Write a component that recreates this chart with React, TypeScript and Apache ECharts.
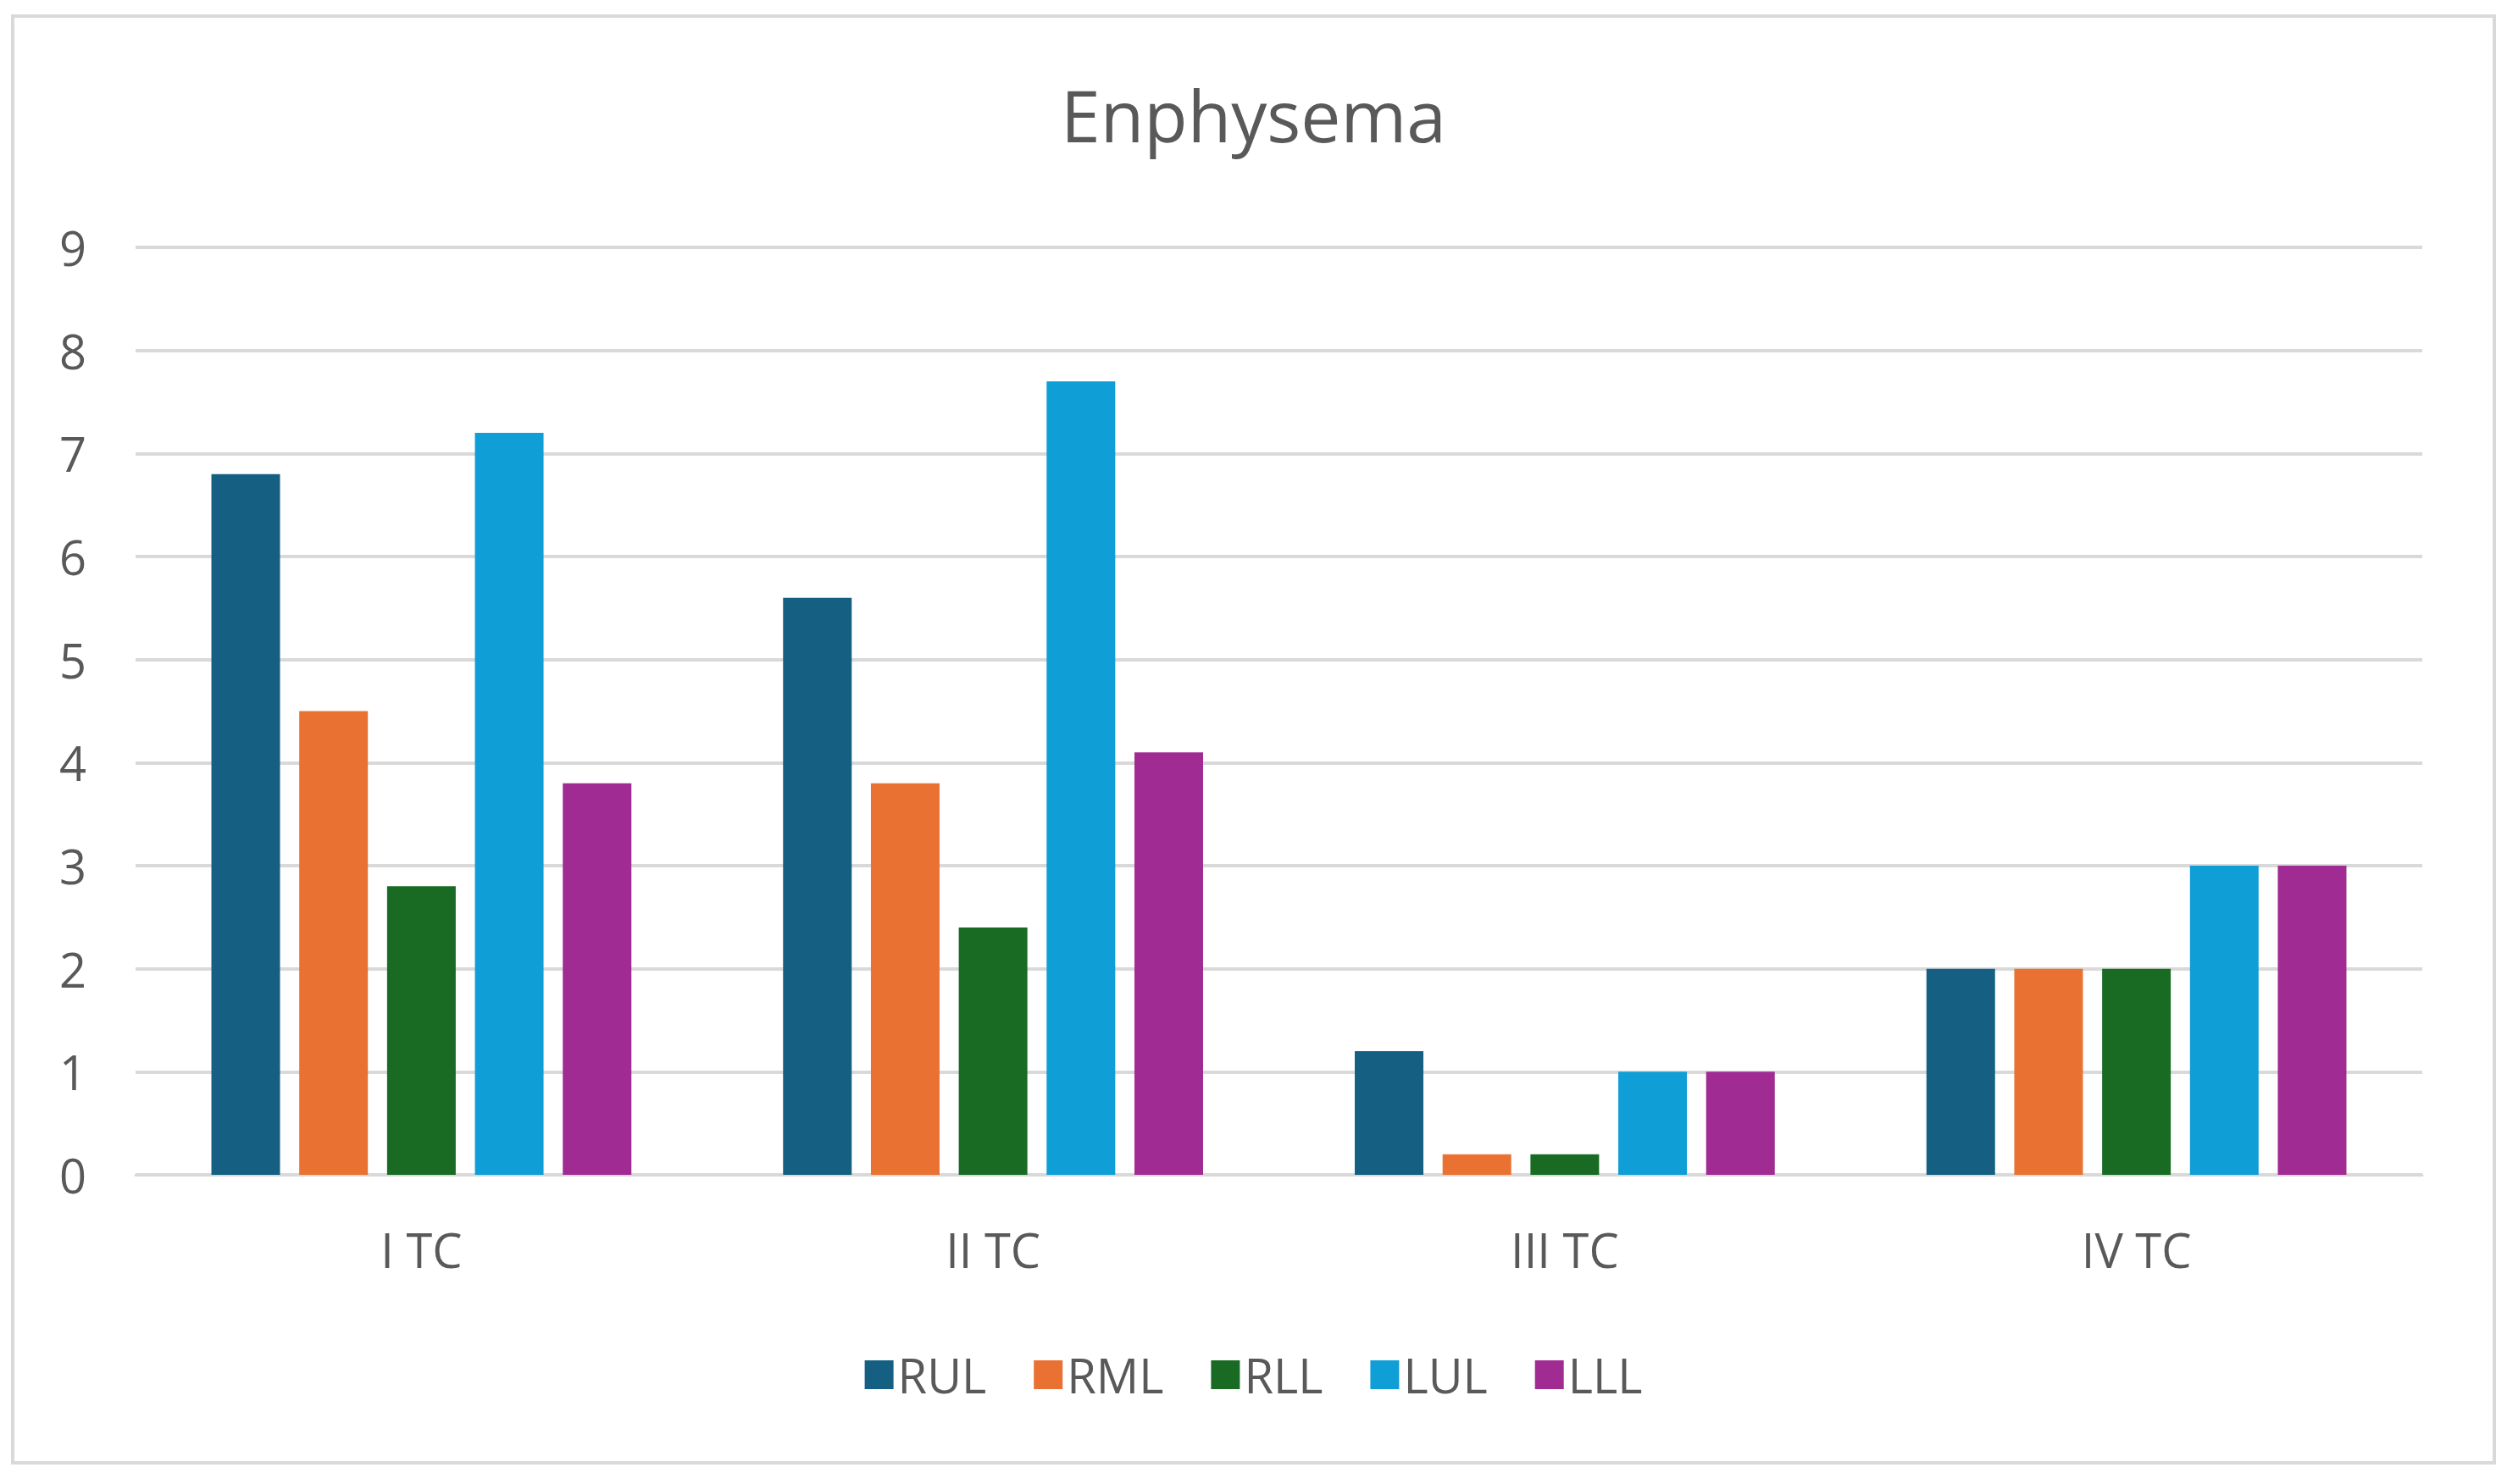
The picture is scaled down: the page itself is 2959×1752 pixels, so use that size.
import { useEffect, useRef } from "react";
import * as echarts from "echarts";

const categories = ["I TC", "II TC", "III TC", "IV TC"];
const seriesNames = ["RUL", "RML", "RLL", "LUL", "LLL"];
const colors = ["#156082", "#E97132", "#196B24", "#0F9ED5", "#A02B93"];
const rul = [6.8, 5.6, 1.2, 2];
const rml = [4.5, 3.8, 0.2, 2];
const rll = [2.8, 2.4, 0.2, 2];
const lul = [7.2, 7.7, 1, 3];
const lll = [3.8, 4.1, 1, 3];
const values = [rul, rml, rll, lul, lll];

const FONT = "'Open Sans', 'Noto Sans', sans-serif";
const TEXT = "#595959";

export default function App() {
  const ref = useRef<HTMLDivElement>(null);

  useEffect(() => {
    document.body.style.margin = "0";
    if (!ref.current) return;
    const chart = echarts.init(ref.current, undefined, { renderer: "svg" });
    chart.setOption({
      animation: false,
      backgroundColor: "#fff",
      title: {
        text: "Enphysema",
        left: "center",
        top: 88,
        textStyle: { color: TEXT, fontSize: 84, fontWeight: "normal", fontFamily: FONT },
      },
      graphic: [
        {
          type: "rect",
          shape: { x: 15, y: 19, width: 2929, height: 1708 },
          style: { fill: "none", stroke: "#D9D9D9", lineWidth: 4 },
          silent: true,
        },
      ],
      legend: {
        data: seriesNames,
        top: 1590,
        left: "center",
        itemWidth: 34,
        itemHeight: 34,
        itemGap: 56,
        icon: "rect",
        textStyle: { color: TEXT, fontSize: 56, fontFamily: FONT },
      },
      grid: { left: 160, right: 100, top: 292, bottom: 365 },
      xAxis: {
        type: "category",
        data: categories,
        axisLine: { lineStyle: { color: "#D9D9D9", width: 3 } },
        axisTick: { show: false },
        axisLabel: { color: TEXT, fontSize: 56, fontFamily: FONT, margin: 60 },
      },
      yAxis: {
        type: "value",
        min: 0,
        max: 9,
        interval: 1,
        axisLine: { show: false },
        axisTick: { show: false },
        axisLabel: { color: TEXT, fontSize: 56, fontFamily: FONT, margin: 58 },
        splitLine: { lineStyle: { color: "#D9D9D9", width: 4 } },
      },
      series: seriesNames.map((name, i) => ({
        name,
        type: "bar",
        data: values[i],
        barWidth: 81,
        barGap: "28%",
        itemStyle: { color: colors[i] },
      })),
    });
    return () => chart.dispose();
  }, []);

  return <div ref={ref} style={{ width: 2959, height: 1752 }} />;
}
